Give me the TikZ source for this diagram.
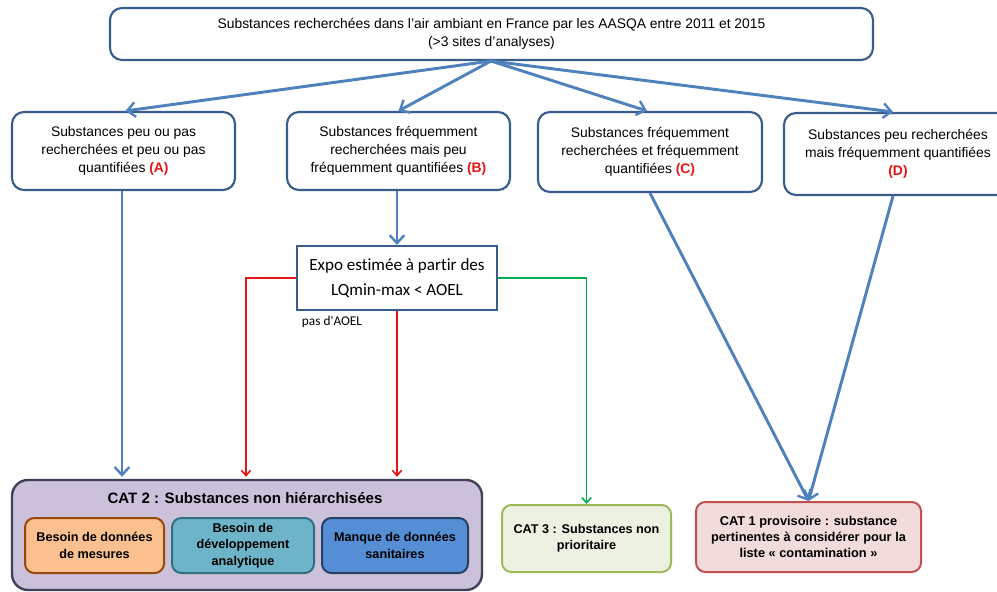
\documentclass[tikz,border=0pt]{standalone}
\usepackage{fontspec}
\setmainfont{Liberation Sans}
\newfontfamily\calib[Ligatures=NoCommon]{Carlito}
\usetikzlibrary{arrows.meta,calc}
\definecolor{boxblue}{RGB}{56,93,138}
\definecolor{arrblue}{RGB}{79,129,189}
\definecolor{lred}{RGB}{232,20,20}
\definecolor{lgreen}{RGB}{0,176,80}
\definecolor{cattwofill}{RGB}{204,193,218}
\definecolor{cattwoline}{RGB}{64,64,90}
\definecolor{orfill}{RGB}{250,192,144}
\definecolor{orline}{RGB}{152,72,7}
\definecolor{tefill}{RGB}{110,180,200}
\definecolor{teline}{RGB}{49,110,130}
\definecolor{blfill}{RGB}{85,142,213}
\definecolor{blline}{RGB}{37,64,97}
\definecolor{c3fill}{RGB}{236,241,226}
\definecolor{c3line}{RGB}{155,187,89}
\definecolor{c1fill}{RGB}{242,220,219}
\definecolor{c1line}{RGB}{192,80,77}
\tikzset{
  topbox/.style={draw=boxblue, line width=1.6pt, rounded corners=9pt, fill=white, align=center, inner sep=2pt, font=\fontsize{10.4}{13.5}\selectfont},
  expobox/.style={draw=boxblue, line width=1.6pt, fill=white, align=center, font=\calib\fontsize{12.8}{18.5}\selectfont},
  catbox/.style={line width=1.5pt, rounded corners=7pt, align=center, font=\bfseries\fontsize{9.5}{12.2}\selectfont},
  barrow/.style={draw=arrblue, line width=2.2pt, -{Straight Barb[length=6pt,width=11pt,line width=1.8pt]}},
  rarrow/.style={draw=lred, line width=1.2pt, -{Straight Barb[length=4pt,width=7pt]}},
  garrow/.style={draw=lgreen, line width=1.2pt, -{Straight Barb[length=4pt,width=7pt]}},
}
\begin{document}
\begin{tikzpicture}[x=0.75pt,y=-0.75pt]
\useasboundingbox (0,0) rectangle (997,592);
\clip (0,0) rectangle (997,592);
% top
\node[topbox, minimum width=763*0.75pt, minimum height=52*0.75pt] (top) at (491.5,34)
  {Substances recherchées dans l'air ambiant en France par les AASQA entre 2011 et 2015\\(>3 sites d'analyses)};
\coordinate (src) at (491,61);
% level 2
\node[topbox, minimum width=223*0.75pt, minimum height=78*0.75pt] (A) at (123.5,151)
  {Substances peu ou pas\\recherchées  et peu ou pas\\quantifiées  \textcolor{lred}{\bfseries (A)}};
\node[topbox, minimum width=223*0.75pt, minimum height=78*0.75pt] (B) at (398.5,151)
  {Substances fréquemment\\recherchées  mais peu\\fréquemment  quantifiées \textcolor{lred}{\bfseries (B)}};
\node[topbox, minimum width=224*0.75pt, minimum height=80*0.75pt] (C) at (650,152)
  {Substances fréquemment\\recherchées  et fréquemment\\quantifiées  \textcolor{lred}{\bfseries (C)}};
\node[topbox, minimum width=228*0.75pt, minimum height=82*0.75pt] (D) at (898,154)
  {Substances peu recherchées\\mais fréquemment  quantifiées\\\textcolor{lred}{\bfseries (D)}};
% expo
\node[expobox, minimum width=200*0.75pt, minimum height=64*0.75pt] (E) at (397,278)
  {Expo estimée à partir des\\LQmin-max < AOEL};
\node[font=\calib\fontsize{10}{12}\selectfont, anchor=center] (pas) at (332,322) {pas d'AOEL};
% CAT2
\node[catbox, draw=cattwoline, fill=cattwofill, line width=1.8pt, rounded corners=12pt, minimum width=470*0.75pt, minimum height=110*0.75pt] (cat2) at (247,535) {};
\node[font=\bfseries\fontsize{11.3}{13}\selectfont] (cat2t) at (245,498) {CAT 2 :  Substances non hiérarchisées};
\node[catbox, draw=orline, fill=orfill, minimum width=139*0.75pt, minimum height=55*0.75pt] (o1) at (94.5,545.5) {Besoin de données\\de mesures};
\node[catbox, draw=teline, fill=tefill, minimum width=142*0.75pt, minimum height=55*0.75pt] (o2) at (243,545.5) {Besoin de\\développement\\analytique};
\node[catbox, draw=blline, fill=blfill, minimum width=146*0.75pt, minimum height=55*0.75pt] (o3) at (395,545.5) {Manque de données\\sanitaires};
% CAT3, CAT1
\node[catbox, draw=c3line, fill=c3fill, minimum width=169*0.75pt, minimum height=67*0.75pt] (cat3) at (586.5,538.5) {CAT  3 : Substances non\\prioritaire};
\node[catbox, draw=c1line, fill=c1fill, minimum width=225*0.75pt, minimum height=70*0.75pt, font=\bfseries\fontsize{9.6}{12.2}\selectfont] (cat1) at (808.5,537) {CAT  1 provisoire :  substance\\pertinentes à considérer pour la\\liste « contamination  »};
% arrows from top
\draw[barrow] (src) -- ($(A.north)+(2,0)$);
\draw[barrow] (src) -- (B.north);
\draw[barrow] (src) -- ($(C.north)+(-3,0)$);
\draw[barrow] (src) -- ($(D.north)+(-5,0)$);
% A down
\draw[barrow] (A.south -| 122,0) -- ($(cat2.north -| 122,0)+(0,-2)$);
\draw[barrow] (B.south -| E.north) -- (E.north);
% red
\coordinate (rl) at (E.west -| 246,0);
\draw[rarrow] (E.west) -- (rl) -- ($(cat2.north -| rl)+(0,-2)$);
\draw[rarrow] (E.south) -- ($(cat2.north -| E.south)+(0,-2)$);
% green
\coordinate (gr) at (E.east -| cat3.north);
\draw[garrow] (E.east) -- (gr) -- (cat3.north);
% to CAT1
\draw[barrow] (C.south) -- (cat1.north);
\draw[barrow] ($(D.south)+(-5,0)$) -- (cat1.north);
\end{tikzpicture}
\end{document}
